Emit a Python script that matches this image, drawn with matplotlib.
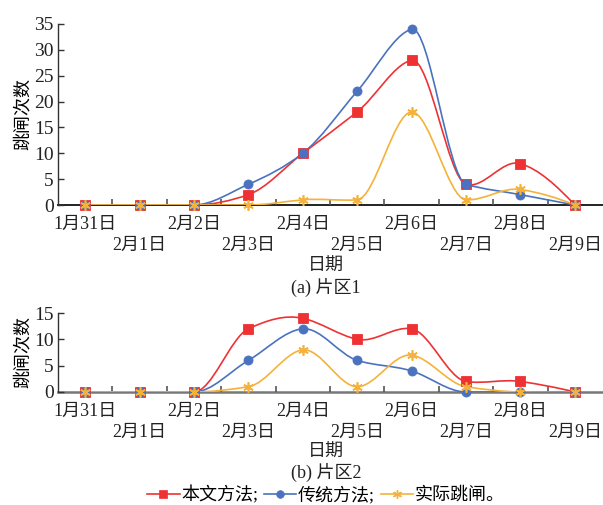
import numpy as np
import matplotlib
matplotlib.use("Agg")
import matplotlib.pyplot as plt
from matplotlib.path import Path
from matplotlib.patches import PathPatch
from matplotlib.lines import Line2D

plt.rcParams['font.family'] = ['Liberation Serif', 'Noto Sans CJK SC', 'DejaVu Sans']
plt.rcParams['axes.unicode_minus'] = False

dates = ["1月31日", "2月1日", "2月2日", "2月3日", "2月4日",
         "2月5日", "2月6日", "2月7日", "2月8日", "2月9日"]

# 片区1
a_proposed = [0, 0, 0, 2, 10, 18, 28, 4, 8, 0]
a_traditional = [0, 0, 0, 4, 10, 22, 34, 4, 2, 0]
a_actual = [0, 0, 0, 0, 1, 1, 18, 1, 3, 0]

# 片区2
b_proposed = [0, 0, 0, 12, 14, 10, 12, 2, 2, 0]
b_traditional = [0, 0, 0, 6, 12, 6, 4, 0, 0, 0]
b_actual = [0, 0, 0, 1, 8, 1, 7, 1, 0, 0]

series_names = ["本文方法;", "传统方法;", "实际跳闸。"]
colors = ["#EE3234", "#4A72BE", "#F5B23A"]
markers = ["s", "o", (6, 2, 0)]
msizes = [6.8, 6.5, 7.5]

FS = 13


def makima_slopes(x, y):
    x = np.asarray(x, float)
    y = np.asarray(y, float)
    m = np.diff(y) / np.diff(x)
    n = len(m)
    mm = np.empty(n + 4)
    mm[2:n + 2] = m
    mm[1] = 2 * mm[2] - mm[3]
    mm[0] = 2 * mm[1] - mm[2]
    mm[n + 2] = 2 * mm[n + 1] - mm[n]
    mm[n + 3] = 2 * mm[n + 2] - mm[n + 1]
    t = np.empty(len(x))
    for i in range(len(x)):
        m1, m2, m3, m4 = mm[i], mm[i + 1], mm[i + 2], mm[i + 3]
        w1 = abs(m4 - m3) + abs(m4 + m3) / 2
        w2 = abs(m2 - m1) + abs(m2 + m1) / 2
        if w1 + w2 < 1e-12:
            t[i] = 0.5 * (m2 + m3)
        else:
            t[i] = (w1 * m2 + w2 * m3) / (w1 + w2)
    return t


def smooth_path(x, y):
    """Modified-Akima curve through the data points, as cubic Bezier path."""
    x = np.asarray(x, float)
    y = np.asarray(y, float)
    t = makima_slopes(x, y)
    verts = [(x[0], y[0])]
    codes = [Path.MOVETO]
    for i in range(len(x) - 1):
        dx = x[i + 1] - x[i]
        verts += [(x[i] + dx / 3, y[i] + t[i] * dx / 3),
                  (x[i + 1] - dx / 3, y[i + 1] - t[i + 1] * dx / 3),
                  (x[i + 1], y[i + 1])]
        codes += [Path.CURVE4] * 3
    return Path(verts, codes)


def draw_panel(ax, data, ymax, yticks, spine_color, spine_w):
    x = np.arange(len(dates))
    for vals, c, m, ms in zip(data, colors, markers, msizes):
        patch = PathPatch(smooth_path(x, vals), facecolor='none', edgecolor=c, lw=1.2, zorder=2)
        ax.add_patch(patch)
        ax.plot(x, vals, linestyle='none', marker=m, color=c, markersize=ms,
                markeredgewidth=1.2 if m not in ("s", "o") else 0.6,
                markeredgecolor=c, zorder=3, clip_on=False)
    ax.set_xlim(-0.5, len(dates) - 0.5)
    ax.set_ylim(0, ymax)
    ax.set_yticks(yticks)
    ax.set_yticklabels([str(v) for v in yticks], fontsize=FS + 1)
    labels = [d if i % 2 == 0 else "\n" + d for i, d in enumerate(dates)]
    ax.set_xticks(x)
    ax.set_xticklabels(labels, fontsize=FS, linespacing=1.3)
    ax.set_xticks(np.arange(0.5, len(dates) - 1, 1.0), minor=True)
    ax.tick_params(axis='x', which='major', length=0, pad=8)
    ax.tick_params(axis='x', which='minor', direction='in', length=4, width=1.2, color='#555555')
    ax.tick_params(axis='y', direction='in', length=4, width=1.0, pad=3, color='#333333')
    for s in ['top', 'right']:
        ax.spines[s].set_visible(False)
    ax.spines['bottom'].set_color(spine_color)
    ax.spines['bottom'].set_linewidth(spine_w)
    ax.spines['left'].set_color('#333333')
    ax.spines['left'].set_linewidth(1.0)
    ax.spines['bottom'].set_zorder(1)
    ax.set_ylabel("跳闸次数", fontsize=FS, labelpad=2)
    for lab in ax.get_xticklabels() + ax.get_yticklabels():
        lab.set_color('#222222')


fig = plt.figure(figsize=(6.03, 5.05), dpi=100)
ax1 = fig.add_axes([58 / 603, 300 / 505, 544 / 603, 181 / 505])
ax2 = fig.add_axes([58 / 603, 113 / 505, 544 / 603, 79 / 505])

draw_panel(ax1, [a_proposed, a_traditional, a_actual], 35, [0, 5, 10, 15, 20, 25, 30, 35], '#222222', 1.4)
draw_panel(ax2, [b_proposed, b_traditional, b_actual], 15, [0, 5, 10, 15], '#777777', 1.8)

fig.text(326 / 603, 1 - 266 / 505, "日期", ha='center', va='center', fontsize=FS, color='#222222')
fig.text(326 / 603, 1 - 287 / 505, "(a) 片区1", ha='center', va='center', fontsize=FS, color='#222222')
fig.text(326 / 603, 1 - 452 / 505, "日期", ha='center', va='center', fontsize=FS, color='#222222')
fig.text(326 / 603, 1 - 472 / 505, "(b) 片区2", ha='center', va='center', fontsize=FS, color='#222222')

handles = [Line2D([], [], color=c, marker=m, markersize=ms * 0.85, lw=1.2,
                  markeredgewidth=1.0 if m not in ("s", "o") else 0.5)
           for c, m, ms in zip(colors, markers, msizes)]
fig.legend(handles, series_names, loc='center', bbox_to_anchor=(326 / 603, 1 - 495 / 505),
           ncol=3, frameon=False, fontsize=FS, handlelength=1.8, handletextpad=0.1,
           columnspacing=0.3, borderpad=0, borderaxespad=0)

fig.savefig("out.png", dpi=100)
